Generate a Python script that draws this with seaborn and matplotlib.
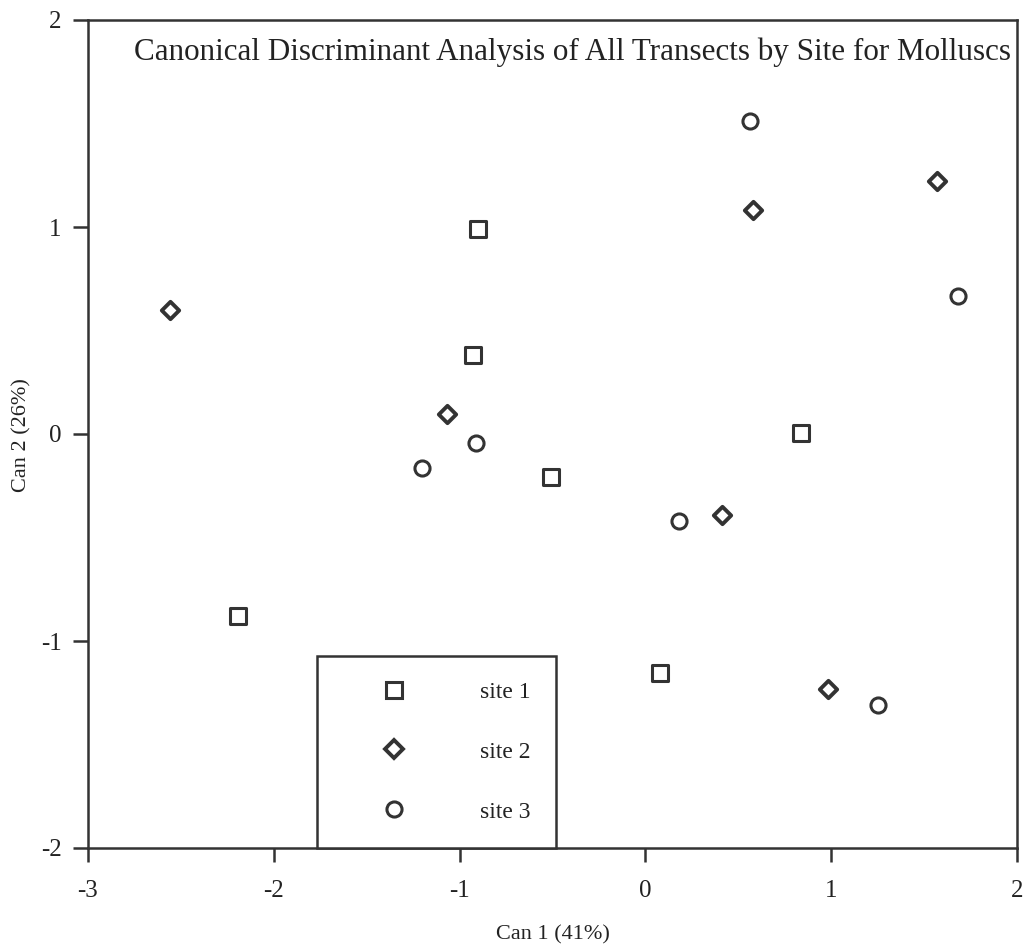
import matplotlib
matplotlib.use("Agg")
import matplotlib.pyplot as plt
import seaborn as sns
import pandas as pd
from matplotlib.lines import Line2D

sns.set_theme(style="white")
plt.rcParams['font.family'] = ['Liberation Serif', 'DejaVu Serif']

# Data
site1_x = [-0.90, -0.93, -0.51, 0.84, -2.19, 0.08]
site1_y = [0.99, 0.38, -0.21, 0.005, -0.88, -1.155]
site2_x = [-2.56, -1.07, 0.58, 1.57, 0.41, 0.985]
site2_y = [0.60, 0.095, 1.08, 1.22, -0.39, -1.23]
site3_x = [0.565, 1.68, -0.91, -1.20, 0.18, 1.25]
site3_y = [1.51, 0.665, -0.045, -0.165, -0.42, -1.31]
labels = ["site 1", "site 2", "site 3"]
x_ticks = [-3, -2, -1, 0, 1, 2]
y_ticks = [-2, -1, 0, 1, 2]
title = "Canonical Discriminant Analysis of All Transects by Site for Molluscs"
xlabel = "Can 1 (41%)"
ylabel = "Can 2 (26%)"

df = pd.concat([
    pd.DataFrame({"x": site1_x, "y": site1_y, "site": labels[0]}),
    pd.DataFrame({"x": site2_x, "y": site2_y, "site": labels[1]}),
    pd.DataFrame({"x": site3_x, "y": site3_y, "site": labels[2]}),
])

ink = "#333333"
txt = "#222222"
fig = plt.figure(figsize=(10.24, 9.49), dpi=100)
ax = fig.add_axes([88/1024, 1-848/949, (1017-88)/1024, (848-20)/949])

styles = {"site 1": ("s", 130), "site 2": ("D", 78), "site 3": ("o", 118)}
for lab in labels:
    m, s = styles[lab]
    sns.scatterplot(data=df[df.site == lab], x="x", y="y", marker=m, s=s,
                    facecolor="white", edgecolor=ink,
                    linewidth=2.8 if m == "D" else 2.2, ax=ax,
                    legend=False, zorder=3)

ax.set_xlim(-3, 2)
ax.set_ylim(-2, 2)
ax.set_xticks(x_ticks)
ax.set_yticks(y_ticks)
ax.set_xticklabels([str(v) for v in x_ticks], fontsize=18, color=txt)
ax.set_yticklabels([str(v) for v in y_ticks], fontsize=18, color=txt)
ax.tick_params(axis="x", direction="out", length=10, width=1.8, pad=13, color=ink, bottom=True)
ax.tick_params(axis="y", direction="out", length=11, width=1.8, pad=8, color=ink, left=True)
for sp in ax.spines.values():
    sp.set_color(ink)
    sp.set_linewidth(1.8)
    sp.set_visible(True)
ax.set_xlabel("")
ax.set_ylabel("")

fig.text(553/1024, 1-935/949, xlabel, ha="center", va="center", fontsize=16, color=txt)
fig.text(22/1024, 1-435/949, ylabel, ha="center", va="center", rotation=90,
         fontsize=16, color=txt)

ax.text(0.522, 0.961, title, transform=ax.transAxes, ha="center", va="center",
        fontsize=22.4, color=txt)

handles = [Line2D([], [], linestyle="none", marker=styles[l][0],
                  markersize=(styles[l][1]) ** 0.5, markerfacecolor="white",
                  markeredgecolor=ink,
                  markeredgewidth=2.8 if styles[l][0] == "D" else 2.2) for l in labels]
leg = ax.legend(handles, labels, loc="lower left", bbox_to_anchor=((317-88)/929, 0),
                borderaxespad=0, frameon=True, fancybox=False, fontsize=17,
                handlelength=4.36, handletextpad=1.47, labelspacing=1.62,
                borderpad=1.08, edgecolor=ink)
leg.get_frame().set_linewidth(1.8)
leg.get_frame().set_alpha(1)
for t in leg.get_texts():
    t.set_color(txt)

fig.savefig("out.png", dpi=100, facecolor="white")
